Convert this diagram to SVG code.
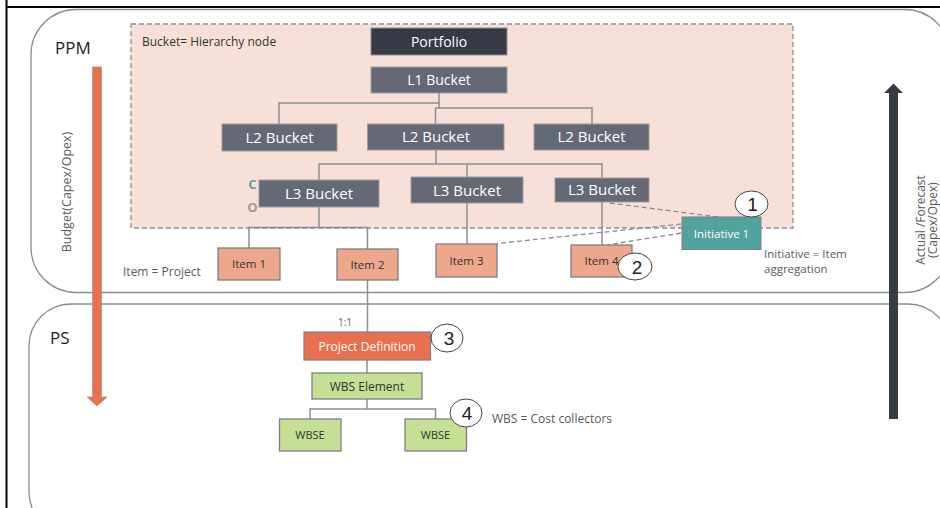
<svg xmlns="http://www.w3.org/2000/svg" width="940" height="508" viewBox="0 0 940 508">
<style>
text{font-family:"Open Sans","Liberation Sans",sans-serif}
.lane{fill:#fff;stroke:#8a8d93;stroke-width:1.3}
.dark{fill:#363b46;stroke:#8a8d93;stroke-width:1}
.mid{fill:#646975;stroke:#9a9ca2;stroke-width:1}
.item{fill:#eea78c;stroke:#7d7f85;stroke-width:1.3}
.green{fill:#c5df94;stroke:#7d7f85;stroke-width:1.3}
.wt{fill:#fff;text-anchor:middle}
.dt{fill:#333;text-anchor:middle;font-size:11.5px}
.note{fill:#5a5a5a;font-size:12px}
.conn{fill:none;stroke:#8a8d93;stroke-width:1.5}
.dash{fill:none;stroke:#8a8d93;stroke-width:1.3;stroke-dasharray:5 3}
.call{fill:#fff;stroke:#444;stroke-width:1}
.num{fill:#222;font-size:19px;text-anchor:middle;font-family:"Liberation Sans",sans-serif}
</style>
<rect width="940" height="508" fill="#fff"/>
<line x1="6.5" y1="0" x2="6.5" y2="508" stroke="#000" stroke-width="2"/>
<line x1="6" y1="7" x2="940" y2="7" stroke="#000" stroke-width="2"/>
<g id="lane-ppm">
<rect class="lane" x="31" y="9.5" width="919" height="283" rx="45"/>
<text x="55" y="54" font-size="17" fill="#222">PPM</text>
</g>
<g id="lane-ps">
<rect class="lane" x="29" y="304" width="921" height="230" rx="42"/>
<text x="50" y="344" font-size="17" fill="#222">PS</text>
</g>
<g id="bucket-area">
<rect x="131" y="24" width="662" height="204" fill="#f8e0d8" stroke="#8a8d93" stroke-width="1.3" stroke-dasharray="5 3"/>
<text x="142" y="46" font-size="12" fill="#333">Bucket= Hierarchy node</text>
</g>
<g id="budget-arrow">
<path d="M92.5 67 H101.5 V397 H107 L97 406 L87 397 H92.5 Z" fill="#e8704e" stroke="#9a8a85" stroke-width="0.6"/>
<text class="note" transform="translate(71 192) rotate(-90)" text-anchor="middle" style="font-size:12.5px">Budget(Capex/Opex)</text>
</g>
<g id="actual-arrow">
<path d="M889 419 V93 H884 L893.5 83.5 L903 93 H898 V419 Z" fill="#363b46"/>
<text class="note" transform="translate(925 220) rotate(-90)" text-anchor="middle">Actual /Forecast</text>
<text class="note" transform="translate(937 220) rotate(-90)" text-anchor="middle">(Capex/Opex)</text>
</g>
<g id="connectors">
<path class="conn" d="M439 93 V108 M439 103 H279 V124 M435.5 108 H592 V124 M435.5 108 V124"/>
<path class="conn" d="M436 150 V164 H319 V180 M436 164 H602 V178 M467 164 V177"/>
<path class="conn" d="M319 207 V227.5 M249 248 V227.5 H367.5 V249"/>
<path class="conn" d="M467 203 V244 M602 202 V245"/>
<path class="conn" d="M367.5 280 V332"/>
<path class="conn" d="M367 360 V373 M367 399 V409 H310 V419 M367 409 H435.5 V419"/>
<path class="dash" d="M610 203 L718 217 M681 224 L497 243.5 M681 233 L607 245"/>
</g>
<g id="portfolio"><rect class="dark" x="371" y="28" width="136" height="27"/><text class="wt" x="439" y="46.5" font-size="14">Portfolio</text></g>
<g id="l1"><rect class="mid" x="371" y="67" width="136" height="26"/><text class="wt" x="439" y="85" font-size="14">L1 Bucket</text></g>
<g id="l2a"><rect class="mid" x="222" y="124" width="115" height="27"/><text class="wt" x="279.5" y="142.5" font-size="15">L2 Bucket</text></g>
<g id="l2b"><rect class="mid" x="367.5" y="124" width="136.5" height="26"/><text class="wt" x="436" y="142" font-size="15">L2 Bucket</text></g>
<g id="l2c"><rect class="mid" x="534" y="124" width="115" height="26"/><text class="wt" x="591.5" y="142" font-size="15">L2 Bucket</text></g>
<g id="l3a"><rect class="mid" x="259" y="180" width="120" height="27"/><text class="wt" x="319" y="198.5" font-size="15">L3 Bucket</text></g>
<g id="l3b"><rect class="mid" x="411" y="177" width="112" height="26"/><text class="wt" x="467" y="195.5" font-size="15">L3 Bucket</text></g>
<g id="l3c"><rect class="mid" x="555" y="178" width="94" height="24"/><text class="wt" x="602" y="195" font-size="15">L3 Bucket</text></g>
<g id="co">
<text x="252.5" y="188.5" font-size="13" font-weight="bold" fill="#52a3a0" text-anchor="middle">C</text>
<text x="252.5" y="211.5" font-size="13" font-weight="bold" fill="#9a9a9a" text-anchor="middle">O</text>
</g>
<g id="item1"><rect class="item" x="218" y="248" width="62" height="32"/><text class="dt" x="249" y="268">Item 1</text></g>
<g id="item2"><rect class="item" x="337" y="249" width="61" height="31"/><text class="dt" x="367.5" y="268.5">Item 2</text></g>
<g id="item3"><rect class="item" x="436" y="244" width="61" height="33"/><text class="dt" x="466.5" y="264.5">Item 3</text></g>
<g id="item4"><rect class="item" x="571" y="245" width="61" height="32"/><text class="dt" x="601.5" y="265">Item 4</text></g>
<g id="callout2"><ellipse class="call" cx="635" cy="266.5" rx="17" ry="13.5"/><text class="num" x="637" y="273.5">2</text></g>
<g id="initiative1"><rect x="682" y="217" width="79" height="32.5" fill="#52a3a0" stroke="#7d7f85" stroke-width="1"/><text class="wt" x="721.5" y="237.5" font-size="11.5">Initiative 1</text></g>
<g id="callout1"><ellipse class="call" cx="751.5" cy="204" rx="16.5" ry="13"/><text class="num" x="752.5" y="211">1</text></g>
<text class="note" x="123" y="276">Item = Project</text>
<text class="note" x="764" y="258" style="font-size:11.5px"><tspan x="764">Initiative = Item</tspan><tspan x="764" dy="14.5">aggregation</tspan></text>
<text class="note" x="338" y="326" style="font-size:10px">1:1</text>
<g id="projdef"><rect x="304" y="332" width="126.5" height="28" fill="#e8704e" stroke="#7d7f85" stroke-width="1.2"/><text class="wt" x="367" y="350.5" font-size="12">Project Definition</text></g>
<g id="callout3"><ellipse class="call" cx="447" cy="338" rx="16" ry="14"/><text class="num" x="449" y="345">3</text></g>
<g id="wbs-element"><rect class="green" x="312" y="373" width="110" height="26"/><text class="dt" x="367" y="390.5" style="font-size:12px">WBS Element</text></g>
<g id="wbse1"><rect class="green" x="279.5" y="419" width="61.5" height="32"/><text class="dt" x="310" y="439" style="font-size:11px">WBSE</text></g>
<g id="wbse2"><rect class="green" x="405" y="419" width="61.5" height="32"/><text class="dt" x="435.5" y="439" style="font-size:11px">WBSE</text></g>
<g id="callout4"><ellipse class="call" cx="466" cy="413" rx="16" ry="14"/><text class="num" x="467" y="420">4</text></g>
<text class="note" x="492" y="423">WBS = Cost collectors</text>
</svg>
